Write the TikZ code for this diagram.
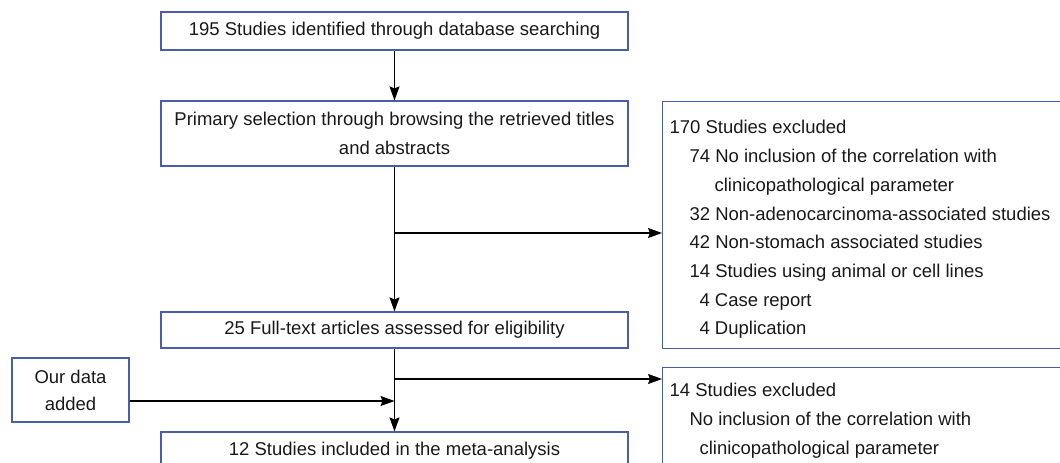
\documentclass[tikz,border=0pt]{standalone}
\usepackage{fontspec}
\setmainfont{Liberation Sans}
\usetikzlibrary{arrows.meta}
\definecolor{boxblue}{RGB}{72,94,170}

\begin{document}
\begin{tikzpicture}[x=1pt, y=-1pt, line width=1.1pt, >={Stealth[length=14pt,width=10pt,inset=2pt]},
  every node/.style={font=\fontsize{18.5}{28.7}\selectfont, text=black!90},
  box/.style={draw=boxblue, line width=1.2pt, minimum width=467pt, inner sep=0pt, align=center},
  exbox/.style={draw=boxblue, line width=1.2pt, minimum width=420pt, anchor=north west, inner sep=0pt},
  extext/.style={anchor=north west, align=left, inner xsep=7pt}]
\useasboundingbox (0,0) rectangle (1060,463);
\clip (0,0) rectangle (1060,463);

\node[box, minimum height=38pt] (ident) at (394.5,31) {195 Studies identified through database searching};
\node[box, minimum height=65pt] (prim) at (394.5,133.5) {Primary selection through browsing the retrieved titles\\and abstracts};
\node[box, minimum height=36pt] (full) at (394.5,330) {25 Full-text articles assessed for eligibility};
\node[box, minimum height=38pt] (incl) at (394.5,451) {12 Studies included in the meta-analysis};
\node[box, minimum width=117pt, minimum height=64pt, font=\fontsize{18.5}{27}\selectfont] (data) at (70.5,390) {Our data\\added};

% exclusion boxes on the right
\node[exbox, minimum height=247pt] (excl1) at (662,101) {};
\node[extext, inner ysep=19pt] (excl1txt) at (excl1.north west) {170 Studies excluded\\
  \hspace*{20pt}74 No inclusion of the correlation with\\
  \hspace*{45pt}clinicopathological parameter\\
  \hspace*{20pt}32 Non-adenocarcinoma-associated studies\\
  \hspace*{20pt}42 Non-stomach associated studies\\
  \hspace*{20pt}14 Studies using animal or cell lines\\
  \hspace*{30pt}4 Case report\\
  \hspace*{30pt}4 Duplication};
\node[exbox, minimum height=130pt] (excl2) at (662,367) {};
\node[extext, inner ysep=16pt] (excl2txt) at (excl2.north west) {14 Studies excluded\\
  \hspace*{20pt}No inclusion of the correlation with\\
  \hspace*{30pt}clinicopathological parameter};

\coordinate (split1) at (394.5,233);
\coordinate (split2) at (394.5,379);
\coordinate (join) at (394.5,401);

\draw[->] (ident) -- (prim);
\draw[->] (prim) -- (full);
\draw[->] (full) -- (incl);
\draw[->] (split1) -- (split1 -| excl1.west);
\draw[->] (split2) -- (split2 -| excl2.west);
\draw[->] (data.east |- join) -- (join);
\end{tikzpicture}
\end{document}
